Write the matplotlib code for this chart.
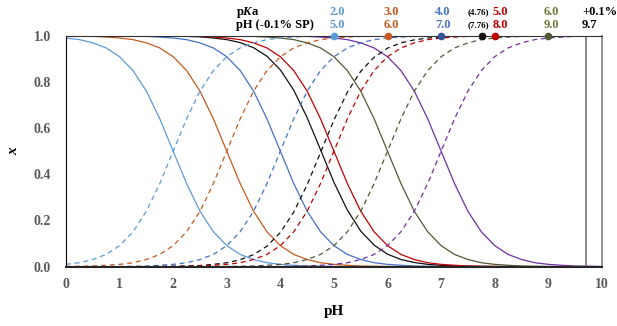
import matplotlib
matplotlib.use("Agg")
import matplotlib.pyplot as plt

plt.rcParams['font.family'] = ['Liberation Serif', 'DejaVu Serif']
plt.rcParams['mathtext.fontset'] = 'custom'
plt.rcParams['mathtext.rm'] = 'Liberation Serif'
plt.rcParams['mathtext.bf'] = 'Liberation Serif:bold'
plt.rcParams['mathtext.bfit'] = 'Liberation Serif:italic:bold'

# pH grid, 0 to 10 in steps of 0.25
ph = [0,
      0.25, 0.5, 0.75, 1, 1.25, 1.5, 1.75, 2, 2.25, 2.5, 2.75, 3,
      3.25, 3.5, 3.75, 4, 4.25, 4.5, 4.75, 5, 5.25, 5.5, 5.75, 6,
      6.25, 6.5, 6.75, 7, 7.25, 7.5, 7.75, 8, 8.25, 8.5, 8.75, 9,
      9.25, 9.5, 9.75, 10]

# fraction of acid HA (solid lines)
ha_2 = [0.990,
        0.983, 0.969, 0.947, 0.909,
        0.849, 0.760, 0.640, 0.500,
        0.360, 0.240, 0.151, 0.091,
        0.053, 0.031, 0.017, 0.010,
        0.006, 0.003, 0.002, 0.001,
        0.001, 0, 0, 0,
        0, 0, 0, 0,
        0, 0, 0, 0,
        0, 0, 0, 0,
        0, 0, 0, 0]
ha_3 = [0.999,
        0.998, 0.997, 0.994, 0.990,
        0.983, 0.969, 0.947, 0.909,
        0.849, 0.760, 0.640, 0.500,
        0.360, 0.240, 0.151, 0.091,
        0.053, 0.031, 0.017, 0.010,
        0.006, 0.003, 0.002, 0.001,
        0.001, 0, 0, 0,
        0, 0, 0, 0,
        0, 0, 0, 0,
        0, 0, 0, 0]
ha_4 = [1,
        1, 1, 0.999, 0.999,
        0.998, 0.997, 0.994, 0.990,
        0.983, 0.969, 0.947, 0.909,
        0.849, 0.760, 0.640, 0.500,
        0.360, 0.240, 0.151, 0.091,
        0.053, 0.031, 0.017, 0.010,
        0.006, 0.003, 0.002, 0.001,
        0.001, 0, 0, 0,
        0, 0, 0, 0,
        0, 0, 0, 0]
ha_476 = [1,
          1, 1, 1, 1,
          1, 1, 0.999, 0.998,
          0.997, 0.995, 0.990, 0.983,
          0.970, 0.948, 0.911, 0.852,
          0.764, 0.645, 0.506, 0.365,
          0.245, 0.154, 0.093, 0.054,
          0.031, 0.018, 0.010, 0.006,
          0.003, 0.002, 0.001, 0.001,
          0, 0, 0, 0,
          0, 0, 0, 0]
ha_5 = [1,
        1, 1, 1, 1,
        1, 1, 0.999, 0.999,
        0.998, 0.997, 0.994, 0.990,
        0.983, 0.969, 0.947, 0.909,
        0.849, 0.760, 0.640, 0.500,
        0.360, 0.240, 0.151, 0.091,
        0.053, 0.031, 0.017, 0.010,
        0.006, 0.003, 0.002, 0.001,
        0.001, 0, 0, 0,
        0, 0, 0, 0]
ha_6 = [1,
        1, 1, 1, 1,
        1, 1, 1, 1,
        1, 1, 0.999, 0.999,
        0.998, 0.997, 0.994, 0.990,
        0.983, 0.969, 0.947, 0.909,
        0.849, 0.760, 0.640, 0.500,
        0.360, 0.240, 0.151, 0.091,
        0.053, 0.031, 0.017, 0.010,
        0.006, 0.003, 0.002, 0.001,
        0.001, 0, 0, 0]
ha_7 = [1,
        1, 1, 1, 1,
        1, 1, 1, 1,
        1, 1, 1, 1,
        1, 1, 0.999, 0.999,
        0.998, 0.997, 0.994, 0.990,
        0.983, 0.969, 0.947, 0.909,
        0.849, 0.760, 0.640, 0.500,
        0.360, 0.240, 0.151, 0.091,
        0.053, 0.031, 0.017, 0.010,
        0.006, 0.003, 0.002, 0.001]

# fraction of base A- (dashed lines)
a_2 = [0.010,
       0.017, 0.031, 0.053, 0.091,
       0.151, 0.240, 0.360, 0.500,
       0.640, 0.760, 0.849, 0.909,
       0.947, 0.969, 0.983, 0.990,
       0.994, 0.997, 0.998, 0.999,
       0.999, 1, 1, 1,
       1, 1, 1, 1,
       1, 1, 1, 1,
       1, 1, 1, 1,
       1, 1, 1, 1]
a_3 = [0.001,
       0.002, 0.003, 0.006, 0.010,
       0.017, 0.031, 0.053, 0.091,
       0.151, 0.240, 0.360, 0.500,
       0.640, 0.760, 0.849, 0.909,
       0.947, 0.969, 0.983, 0.990,
       0.994, 0.997, 0.998, 0.999,
       0.999, 1, 1, 1,
       1, 1, 1, 1,
       1, 1, 1, 1,
       1, 1, 1, 1]
a_4 = [0,
       0, 0, 0.001, 0.001,
       0.002, 0.003, 0.006, 0.010,
       0.017, 0.031, 0.053, 0.091,
       0.151, 0.240, 0.360, 0.500,
       0.640, 0.760, 0.849, 0.909,
       0.947, 0.969, 0.983, 0.990,
       0.994, 0.997, 0.998, 0.999,
       0.999, 1, 1, 1,
       1, 1, 1, 1,
       1, 1, 1, 1]
a_476 = [0,
         0, 0, 0, 0,
         0, 0, 0.001, 0.002,
         0.003, 0.005, 0.010, 0.017,
         0.030, 0.052, 0.089, 0.148,
         0.236, 0.355, 0.494, 0.635,
         0.755, 0.846, 0.907, 0.946,
         0.969, 0.982, 0.990, 0.994,
         0.997, 0.998, 0.999, 0.999,
         1, 1, 1, 1,
         1, 1, 1, 1]
a_5 = [0,
       0, 0, 0, 0,
       0, 0, 0.001, 0.001,
       0.002, 0.003, 0.006, 0.010,
       0.017, 0.031, 0.053, 0.091,
       0.151, 0.240, 0.360, 0.500,
       0.640, 0.760, 0.849, 0.909,
       0.947, 0.969, 0.983, 0.990,
       0.994, 0.997, 0.998, 0.999,
       0.999, 1, 1, 1,
       1, 1, 1, 1]
a_6 = [0,
       0, 0, 0, 0,
       0, 0, 0, 0,
       0, 0, 0.001, 0.001,
       0.002, 0.003, 0.006, 0.010,
       0.017, 0.031, 0.053, 0.091,
       0.151, 0.240, 0.360, 0.500,
       0.640, 0.760, 0.849, 0.909,
       0.947, 0.969, 0.983, 0.990,
       0.994, 0.997, 0.998, 0.999,
       0.999, 1, 1, 1]
a_7 = [0,
       0, 0, 0, 0,
       0, 0, 0, 0,
       0, 0, 0, 0,
       0, 0, 0.001, 0.001,
       0.002, 0.003, 0.006, 0.010,
       0.017, 0.031, 0.053, 0.091,
       0.151, 0.240, 0.360, 0.500,
       0.640, 0.760, 0.849, 0.909,
       0.947, 0.969, 0.983, 0.990,
       0.994, 0.997, 0.998, 0.999]

pka_labels = ['2.0', '3.0', '4.0', '5.0', '6.0']
sp_labels = ['5.0', '6.0', '7.0', '8.0', '9.0']
sp_points = [5.0, 6.0, 7.0, 7.76, 8.0, 9.0]
end_ph = 9.7

c_lblue = '#5B9BD5'
c_orange = '#C55A1E'
c_blue = '#4472C4'
c_black = '#111111'
c_red = '#C00000'
c_olive = '#4F5B33'
c_purple = '#7030A0'

fig = plt.figure(figsize=(6.17, 3.26), dpi=100)
ax = fig.add_axes([0.107, 0.182, 0.8685, 0.7085])

solid = [(ha_2, c_lblue), (ha_3, c_orange), (ha_4, c_blue), (ha_476, c_black),
         (ha_5, c_red), (ha_6, c_olive), (ha_7, c_purple)]
dashed = [(a_2, c_lblue), (a_3, c_orange), (a_4, c_blue), (a_476, c_black),
          (a_5, c_red), (a_6, c_olive), (a_7, c_purple)]

for y, c in solid:
    ax.plot(ph, y, color=c, lw=0.9)
for y, c in dashed:
    ax.plot(ph, y, color=c, lw=0.9, linestyle=(0, (4, 3)))

dot_colors = [c_lblue, c_orange, '#2F5597', c_black, c_red, c_olive]
for p, c in zip(sp_points, dot_colors):
    ax.plot(p, 1.0, 'o', color=c, markersize=4.5, clip_on=False, zorder=5)

ax.plot([end_ph, end_ph], [0, 1], color='#7F7F7F', lw=1.3)

ax.set_xlim(0, 10)
ax.set_ylim(0, 1)
ax.set_xticks(range(0, 11))
ax.set_yticks([0, 0.2, 0.4, 0.6, 0.8, 1.0])
ax.set_yticklabels(['0.0', '0.2', '0.4', '0.6', '0.8', '1.0'])
ax.tick_params(axis='x', length=0, labelsize=10, labelcolor='#595959', pad=8)
ax.tick_params(axis='y', length=0, labelsize=10, labelcolor='#595959', pad=11)
for lab in ax.get_xticklabels() + ax.get_yticklabels():
    lab.set_fontweight('bold')

ax.spines['left'].set_color('#000000')
ax.spines['bottom'].set_color('#262626')
ax.spines['bottom'].set_linewidth(1.5)
ax.spines['top'].set_color('#333333')
ax.spines['right'].set_color('#7F7F7F')
ax.spines['right'].set_linewidth(1.2)

ax.set_xlabel('pH', fontsize=11, fontweight='bold')
ax.set_ylabel('x', fontsize=11, fontweight='bold', style='italic')
ax.xaxis.set_label_coords(0.5, -0.165)
ax.yaxis.set_label_coords(-0.085, 0.5)

# header table (pixel positions)
hs = 9
row1, row2 = 314, 301
ax.text(236, row1, r'$\mathbf{p}\mathbfit{K}\mathbf{a}$', transform=None, fontsize=hs,
        va='center', ha='left')
ax.text(236, row2, 'pH (-0.1% SP)', transform=None, fontsize=hs, fontweight='bold',
        va='center', ha='left')
col_x = [337, 391, 443, 500, 551]
col_c = [c_lblue, c_orange, c_blue, c_red, '#6B7B3A']
for x, t1, t2, c in zip(col_x, pka_labels, sp_labels, col_c):
    ax.text(x, row1, t1, transform=None, fontsize=hs, fontweight='bold', color=c,
            ha='center', va='center')
    ax.text(x, row2, t2, transform=None, fontsize=hs, fontweight='bold', color=c,
            ha='center', va='center')
ax.text(478, row1, '(4.76)', transform=None, fontsize=6.5, fontweight='bold',
        ha='center', va='center')
ax.text(478, row2, '(7.76)', transform=None, fontsize=6.5, fontweight='bold',
        ha='center', va='center')
ax.text(582, row1, '+0.1%', transform=None, fontsize=hs, fontweight='bold',
        ha='left', va='center')
ax.text(582, row2, '9.7', transform=None, fontsize=hs, fontweight='bold',
        ha='left', va='center')

fig.savefig('out.png', dpi=100)
